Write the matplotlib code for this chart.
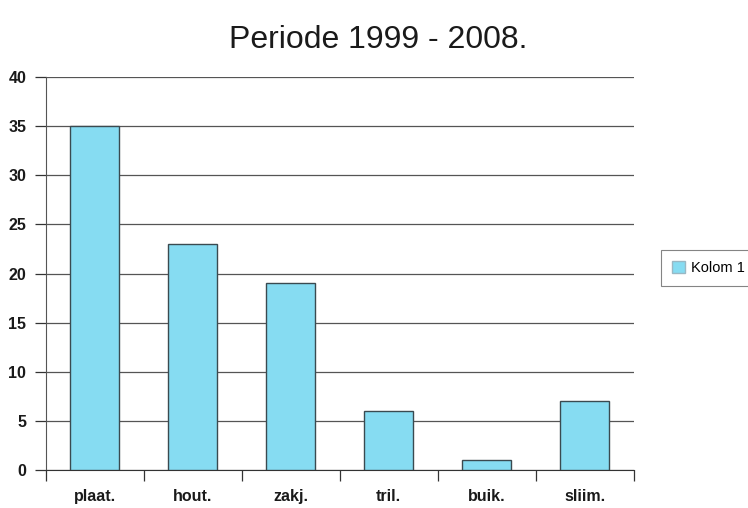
import matplotlib
matplotlib.use("Agg")
import matplotlib.pyplot as plt
from matplotlib.patches import Patch

plt.rcParams['font.family'] = ['Liberation Sans', 'DejaVu Sans']

categories = ["plaat.", "hout.", "zakj.", "tril.", "buik.", "sliim."]
values = [35, 23, 19, 6, 1, 7]
series_name = "Kolom 1"
title = "Periode 1999 - 2008."

bar_color = "#86dcf2"
edge_color = "#3a4a50"

fig = plt.figure(figsize=(7.48, 5.08), dpi=100)
ax = fig.add_axes([0.061, 0.075, 0.786, 0.773])

x = list(range(len(categories)))
ax.bar(x, values, width=0.5, color=bar_color, edgecolor=edge_color, linewidth=1.0, zorder=3)

ax.set_xlim(-0.5, len(categories) - 0.5)
ax.set_ylim(0, 40)
ax.set_yticks(range(0, 41, 5))
ax.yaxis.grid(True, color="#555555", linewidth=0.9, zorder=0)
ax.set_axisbelow(True)

# category ticks sit on the boundaries between groups
ax.set_xticks([i - 0.5 for i in range(len(categories) + 1)], minor=False)
ax.set_xticklabels([])
ax.set_xticks(x, minor=True)
ax.set_xticklabels(categories, minor=True, fontsize=11.5, fontweight="bold", color="#1a1a1a")
ax.tick_params(axis="x", which="minor", length=0, pad=14)
ax.tick_params(axis="x", which="major", length=8, width=0.9, color="#333333", direction="out")
ax.tick_params(axis="y", length=8, width=0.9, color="#333333", direction="out", pad=6,
               labelsize=11.5, labelcolor="#1a1a1a")
for lbl in ax.get_yticklabels():
    lbl.set_fontweight("bold")

for side in ["top", "right"]:
    ax.spines[side].set_visible(False)
ax.spines["left"].set_color("#555555")
ax.spines["bottom"].set_color("#333333")

fig.suptitle(title, x=0.505, y=0.95, fontsize=23, color="#1a1a1a")

handle = Patch(facecolor=bar_color, edgecolor="#9ab8c4")
leg = fig.legend([handle], [series_name], loc="center left", bbox_to_anchor=(0.874, 0.473),
                 fontsize=10.5, frameon=True, fancybox=False, handlelength=0.9, handleheight=0.9,
                 handletextpad=0.4, borderpad=0.75)
leg.get_frame().set_edgecolor("#666666")
leg.get_frame().set_linewidth(0.8)

fig.savefig("out.png", dpi=100)
